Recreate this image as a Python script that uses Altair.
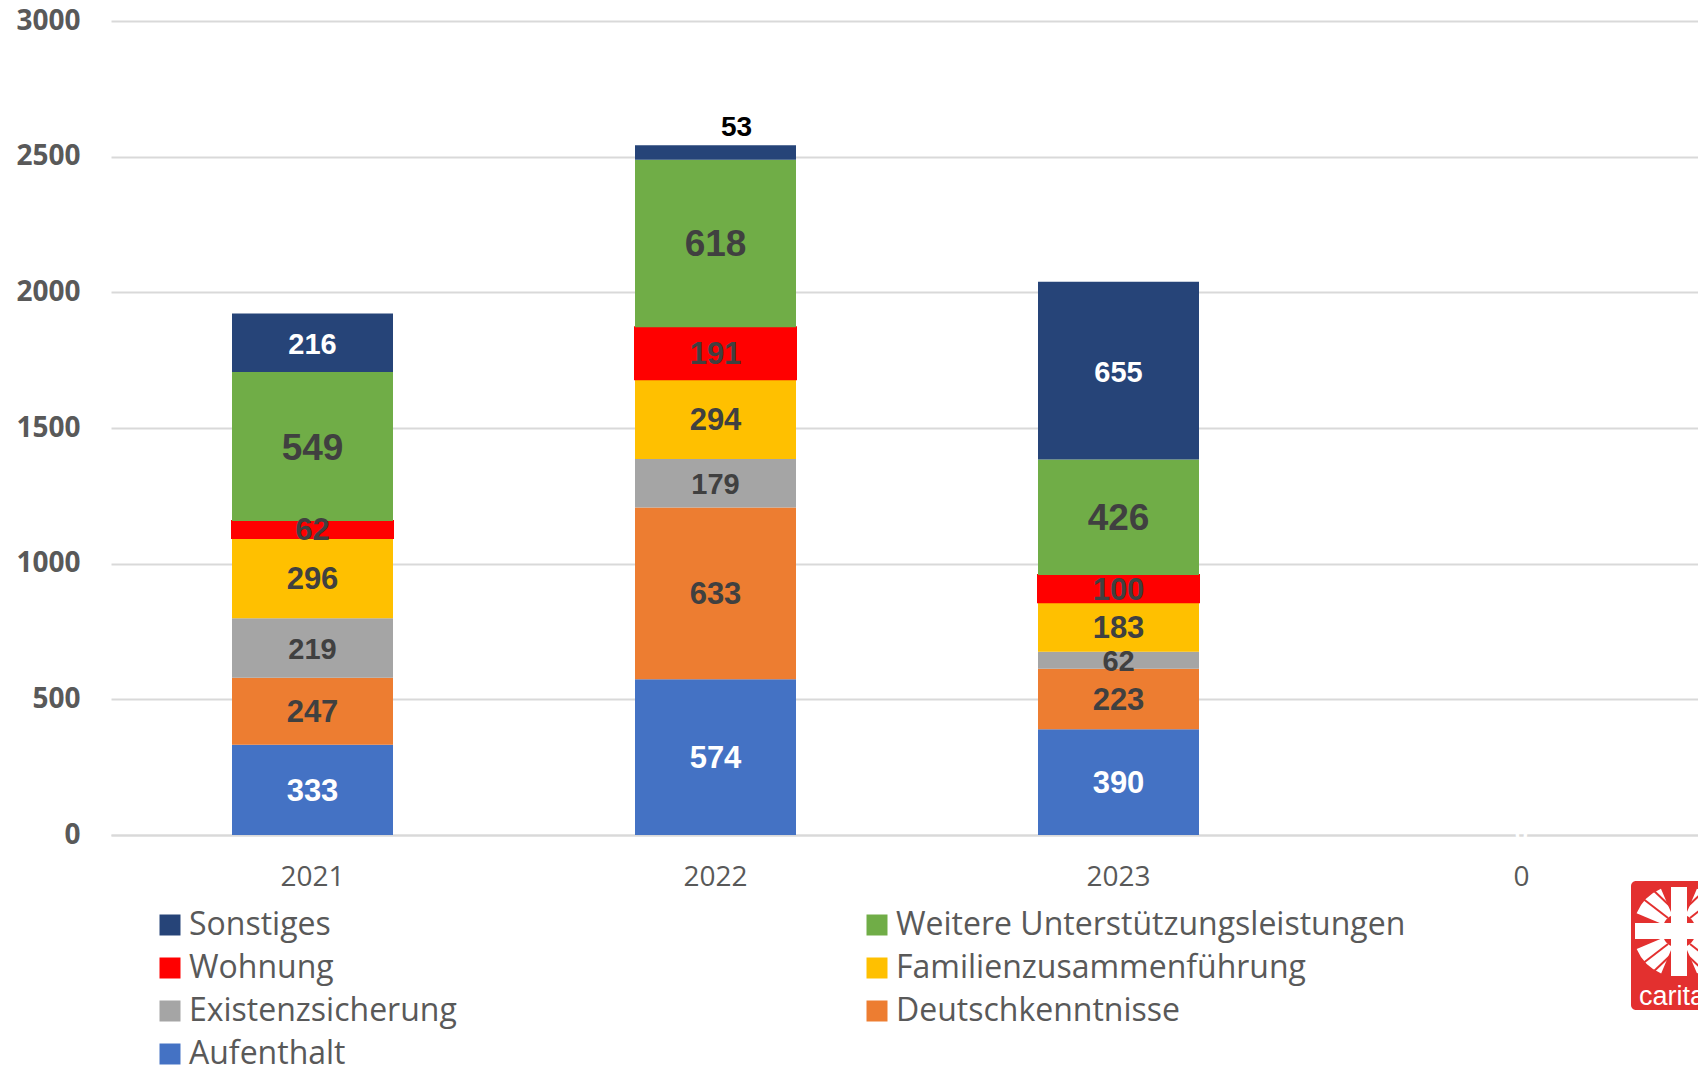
import altair as alt
import pandas as pd

years = ["2021", "2022", "2023", "0"]
series = ["Aufenthalt", "Deutschkenntnisse", "Existenzsicherung", "Familienzusammenführung",
          "Wohnung", "Weitere Unterstützungsleistungen", "Sonstiges"]
aufenthalt = [333, 574, 390, 0]
deutsch = [247, 633, 223, 0]
existenz = [219, 179, 62, 0]
familie = [296, 294, 183, 0]
wohnung = [62, 191, 100, 0]
weitere = [549, 618, 426, 0]
sonstiges = [216, 53, 655, 0]
all_values = [aufenthalt, deutsch, existenz, familie, wohnung, weitere, sonstiges]

# The legend fills column by column
legend_order = ["Sonstiges", "Wohnung", "Existenzsicherung", "Aufenthalt",
                "Weitere Unterstützungsleistungen", "Familienzusammenführung", "Deutschkenntnisse"]
legend_colors = ["#264478", "#FF0000", "#A5A5A5", "#4472C4", "#70AD47", "#FFC000", "#ED7D31"]
label_size = {"Aufenthalt": 31, "Deutschkenntnisse": 31, "Existenzsicherung": 29, "Familienzusammenführung": 31,
              "Wohnung": 31, "Weitere Unterstützungsleistungen": 37, "Sonstiges": 29}
label_color = {"Aufenthalt": "#FFFFFF", "Sonstiges": "#FFFFFF"}

rows = []
for i, y in enumerate(years):
    base = 0
    for s, vals in zip(series, all_values):
        v = vals[i]
        rows.append({"year": y, "series": s, "value": v, "y0": base, "y1": base + v, "mid": base + v / 2})
        base += v
df = pd.DataFrame(rows)

W, H = 1587, 814
TOP, LEFT = 13, 103
ox, oy = LEFT + 8, TOP + 8

x_enc = alt.X("year:N", sort=years, title=None,
              scale=alt.Scale(domain=years, range=[0, 1612], paddingInner=0.6, paddingOuter=0.3),
              axis=alt.Axis(labelAngle=0, labelFont="Open Sans", labelFontSize=28, labelColor="#595959",
                            labelPadding=28, ticks=False, domainColor="#D9D9D9", domainWidth=2, grid=False))

bars = alt.Chart(df).transform_filter("datum.value > 0").mark_bar(size=161).encode(
    x=x_enc,
    y=alt.Y("y0:Q", title=None, scale=alt.Scale(domain=[0, 3000], nice=False),
            axis=alt.Axis(values=[0, 500, 1000, 1500, 2000, 2500, 3000], format="d", labelFont="Open Sans",
                          labelFontWeight="bold", labelFontSize=28, labelColor="#595959",
                          labelPadding=31, ticks=False, domain=False, gridColor="#D9D9D9", gridWidth=2)),
    y2="y1:Q",
    color=alt.Color("series:N", scale=alt.Scale(domain=legend_order, range=legend_colors),
                    legend=alt.Legend(orient="none", legendX=43, legendY=888, columns=2, title=None,
                                      symbolType="square", symbolSize=441, symbolStrokeWidth=0,
                                      labelFont="Open Sans", labelFontSize=32, labelColor="#595959",
                                      labelOffset=3, columnPadding=404, rowPadding=11,
                                      labelLimit=700, gridAlign="each")),
    stroke=alt.condition("datum.series === 'Wohnung'", alt.value("#FF0000"), alt.value("transparent")),
    strokeWidth=alt.value(2),
)

layers = [bars]
for s in series:
    base_text = alt.Chart(df).transform_filter(
        f"datum.series === '{s}' && datum.value > 0 && datum.value !== 53"
    ).mark_text(font="Liberation Sans", fontWeight="bold", fontSize=label_size[s],
                color=label_color.get(s, "#404040"), baseline="middle", dy=2).encode(
        x=alt.X("year:N", sort=years), y=alt.Y("mid:Q"), text="value:Q")
    layers.append(base_text)

small = alt.Chart(df).transform_filter("datum.value === 53").mark_text(
    font="Liberation Sans", fontWeight="bold", fontSize=28, color="#000000", baseline="middle", dx=21, dy=-24
).encode(x=alt.X("year:N", sort=years), y=alt.Y("mid:Q"), text="value:Q")
zero = alt.Chart(df).transform_filter("datum.year === '0' && datum.series === 'Aufenthalt'").mark_text(
    font="Liberation Sans", fontWeight="bold", fontSize=24, color="#FFFFFF", baseline="middle"
).encode(x=alt.X("year:N", sort=years), y=alt.Y("mid:Q"), text="value:Q")
layers += [small, zero]

# Caritas logo (decoration, placed in pixels)
one = pd.DataFrame({"a": [0]})
def px(x): return alt.value(x - ox)
def py(y): return alt.value(y - oy)
RED = "#E3302F"
def rect(x0, x1, y0, y1, color):
    return alt.Chart(one).mark_rect(color=color).encode(x=px(x0), x2=px(x1), y=py(y0), y2=py(y1))
logo = [alt.Chart(one).mark_rect(color=RED, cornerRadius=5).encode(x=px(1631), x2=px(1720), y=py(881), y2=py(1010))]
for a, b in [(0.40, 1.17), (1.97, 2.74), (3.54, 4.31), (5.11, 5.88)]:
    logo.append(alt.Chart(one).mark_arc(color="#FFFFFF", radius=46, radius2=17, theta=a, theta2=b).encode(
        x=px(1679), y=py(931)))
for x0, y0, x1, y1 in [(1642, 898, 1668, 918), (1652, 889, 1672, 908),
                       (1642, 964, 1668, 944), (1652, 973, 1672, 954),
                       (1716, 898, 1690, 918), (1706, 889, 1686, 908),
                       (1716, 964, 1690, 944), (1706, 973, 1686, 954)]:
    logo.append(alt.Chart(one).mark_rule(color=RED, strokeWidth=2).encode(
        x=px(x0), x2=px(x1), y=py(y0), y2=py(y1)))
logo += [rect(1671, 1687, 887, 976, "#FFFFFF"), rect(1635, 1723, 923, 939, "#FFFFFF")]
logo.append(alt.Chart(pd.DataFrame({"t": ["caritas"]})).mark_text(
    font="Liberation Sans", fontSize=27, color="#FFFFFF", align="left", baseline="alphabetic"
).encode(x=px(1639), y=py(1005), text="t:N"))

chart = alt.layer(*layers, *logo).resolve_scale(x="shared", y="shared").properties(
    width=W, height=H,
    autosize=alt.AutoSizeParams(type="none"),
    padding={"left": LEFT, "top": TOP, "right": 0, "bottom": 235},
    background="#FFFFFF",
).configure_view(stroke=None)

chart.save("out.html", embed_options={"renderer": "svg", "actions": False})
